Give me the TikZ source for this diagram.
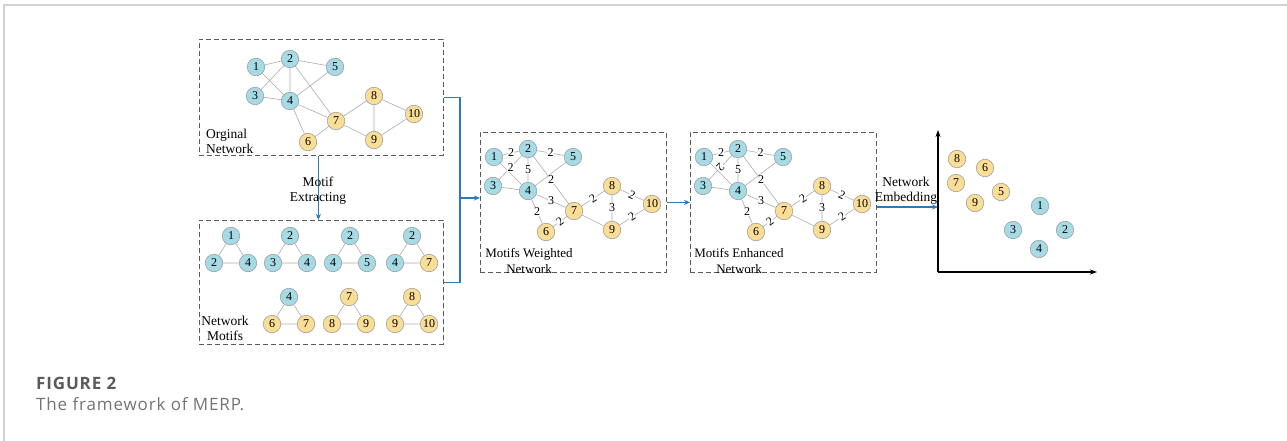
\documentclass[tikz,border=0pt]{standalone}
\usepackage{fontspec}
\setmainfont{Liberation Serif}
\newfontfamily\capfont[LetterSpace=5]{Open Sans}
\usetikzlibrary{arrows.meta}
\definecolor{nblue}{RGB}{166,218,228}
\definecolor{nyellow}{RGB}{250,222,150}
\definecolor{flow}{RGB}{43,122,185}
\definecolor{boxgray}{RGB}{90,90,90}
\definecolor{capgray}{RGB}{90,90,90}
\newcommand\netnodes[2]{%
 \begin{scope}[shift={#2}]
 \node[bn] (#1n1) at (0,0) {1};
 \node[bn] (#1n2) at (34,-8) {2};
 \node[bn] (#1n5) at (79,0) {5};
 \node[bn] (#1n3) at (-1,29) {3};
 \node[bn] (#1n4) at (34,34) {4};
 \node[yn] (#1n7) at (80,54) {7};
 \node[yn] (#1n8) at (118,29) {8};
 \node[yn] (#1n10) at (158,47) {10};
 \node[yn] (#1n9) at (118,73) {9};
 \node[yn] (#1n6) at (52,75) {6};
 \end{scope}}
\newcommand\netedges[1]{%
 \draw[ed] (#1n1)--(#1n2) (#1n1)--(#1n4) (#1n3)--(#1n2) (#1n3)--(#1n4)
 (#1n2)--(#1n4) (#1n2)--(#1n5) (#1n2)--(#1n7) (#1n4)--(#1n5) (#1n4)--(#1n7)
 (#1n4)--(#1n6) (#1n6)--(#1n7) (#1n7)--(#1n8) (#1n7)--(#1n9) (#1n8)--(#1n9)
 (#1n8)--(#1n10) (#1n9)--(#1n10);}
\newcommand\wnetedges[2]{%
 \draw[ed] (#1n1)--node[wl]{2}(#1n2) (#1n1)--(#1n4) (#1n3)--node[wl,#2]{2}(#1n2)
 (#1n3)--(#1n4) (#1n2)--node[wl]{5}(#1n4) (#1n2)--node[wl]{2}(#1n5)
 (#1n2)--node[wl]{2}(#1n7) (#1n4)--(#1n5) (#1n4)--node[wl]{3}(#1n7)
 (#1n4)--node[wl]{2}(#1n6) (#1n6)--node[wl,sloped]{2}(#1n7)
 (#1n7)--node[wl,sloped]{2}(#1n8) (#1n7)--(#1n9) (#1n8)--node[wl]{3}(#1n9)
 (#1n8)--node[wl,sloped]{2}(#1n10) (#1n9)--node[wl,sloped]{2}(#1n10);}
\newcommand\motif[8]{%
 \begin{scope}[shift={#2}]
 \node[#3] (#1t) at (0,0) {#4};
 \node[#5] (#1l) at (-17,27) {#6};
 \node[#7] (#1r) at (17,27) {#8};
 \draw[ed] (#1t)--(#1l) (#1t)--(#1r) (#1l)--(#1r);
 \end{scope}}
\begin{document}
\begin{tikzpicture}[x=1pt,y=-1pt,
 nd/.style={circle,draw=gray!75,line width=0.6pt,minimum size=17.5pt,inner sep=0pt,font=\fontsize{12}{12}\selectfont},
 bn/.style={nd,fill=nblue}, yn/.style={nd,fill=nyellow},
 ed/.style={draw=gray!65,line width=0.6pt},
 wl/.style={font=\fontsize{12}{12}\selectfont,inner sep=0.3pt,fill=white},
 dbox/.style={draw=boxgray,dash pattern=on 5pt off 3pt,line width=0.8pt,inner sep=0pt,anchor=north west},
 flowline/.style={draw=flow,line width=1.1pt},
 flowarrow/.style={flowline,-{Stealth[length=6pt,width=5pt]}},
 lbl/.style={font=\fontsize{13.5}{15}\selectfont,align=center,inner sep=0pt},
 axis/.style={draw=black,line width=1.1pt,-{Stealth[length=7pt,width=5pt]}}
]
\useasboundingbox (0,0) rectangle (1287,441);
\draw[gray!35,line width=1.5pt] (4,441) -- (4,5) -- (1287,5);

% boxes
\node[dbox,minimum width=244pt,minimum height=116pt] (B1) at (199,39) {};
\node[dbox,minimum width=244pt,minimum height=124pt] (B2) at (199,220) {};
\node[dbox,minimum width=186pt,minimum height=140pt] (B3) at (480,132) {};
\node[dbox,minimum width=186pt,minimum height=140pt] (B4) at (690,132) {};

% original network
\netnodes{a}{(256,67)}
\netedges{a}
\node[lbl,align=left,anchor=west] (Ta) at (206,141) {Orginal\\Network};

% motifs
\motif{m1}{(231,236)}{bn}{1}{bn}{2}{bn}{4}
\motif{m2}{(290,236)}{bn}{2}{bn}{3}{bn}{4}
\motif{m3}{(350,236)}{bn}{2}{bn}{4}{bn}{5}
\motif{m4}{(412,236)}{bn}{2}{bn}{4}{yn}{7}
\motif{m5}{(289,297)}{bn}{4}{yn}{6}{yn}{7}
\motif{m6}{(349,297)}{yn}{7}{yn}{8}{yn}{9}
\motif{m7}{(412,297)}{yn}{8}{yn}{9}{yn}{10}
\node[lbl] (Tm) at (225,328) {Network\\Motifs};

% weighted network
\netnodes{b}{(494,157)}
\wnetedges{b}{}
\node[lbl,font=\fontsize{13}{16}\selectfont] (Tb) at (529,261) {Motifs Weighted\\Network};

% enhanced network
\netnodes{c}{(704,157)}
\wnetedges{c}{sloped,rotate=180}
\node[lbl,font=\fontsize{13}{16}\selectfont] (Tc) at (739,261) {Motifs Enhanced\\Network};

% flow
\draw[flowarrow] ([xshift=-3pt]B1.south) -- ([xshift=-3pt]B2.north);
\node[lbl] (Tx) at (318,191) {Motif\\Extracting};
\coordinate (J) at (460,198);
\draw[flowline] (B1.east) -| (J) |- (B2.east);
\draw[flowarrow] (J) -- (J -| B3.west);
\draw[flowarrow] (B3.east) -- (B4.west);
\coordinate (O) at (938,272);
\coordinate (Y) at (938,130);
\coordinate (X) at (1097,272);
\coordinate (E) at (938,207);
\draw[flowarrow] (E -| B4.east) -- (E);
\node[lbl] (Te) at (906,191) {Network\\Embedding};
\draw[axis] (O) -- (Y);
\draw[axis] (O) -- (X);

% embedding
\node[yn] (e8) at (957,159) {8};
\node[yn] (e6) at (985,168) {6};
\node[yn] (e7) at (956,183) {7};
\node[yn] (e5) at (1001,192) {5};
\node[yn] (e9) at (975,203) {9};
\node[bn] (e1) at (1040,206) {1};
\node[bn] (e3) at (1013,230) {3};
\node[bn] (e2) at (1065,230) {2};
\node[bn] (e4) at (1039,249) {4};

% caption
\node[anchor=west,inner sep=0pt,text=capgray,font=\capfont\bfseries\fontsize{17}{17}\selectfont] (C1) at (36,383) {FIGURE 2};
\node[anchor=west,inner sep=0pt,text=capgray!85,font=\capfont\fontsize{17}{17}\selectfont] (C2) at (36,404) {The framework of MERP.};
\end{tikzpicture}
\end{document}
